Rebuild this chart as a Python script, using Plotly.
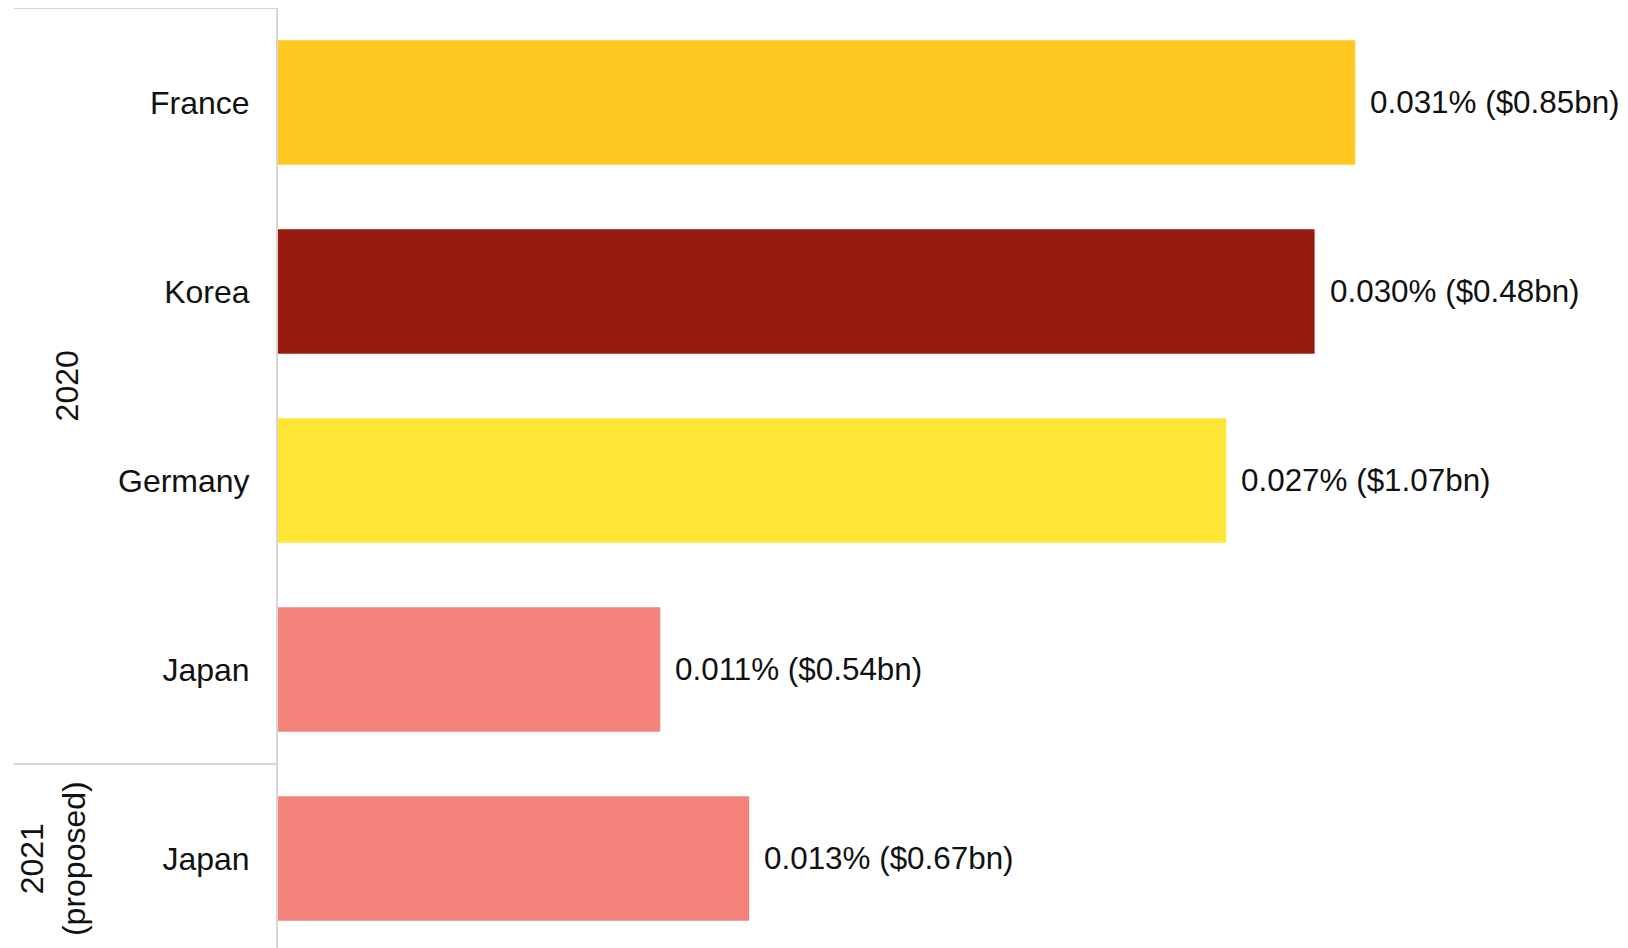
import plotly.graph_objects as go

# data
countries = ["France", "Korea", "Germany", "Japan", "Japan"]
years = ["2020", "2020", "2020", "2020", "2021<br>(proposed)"]
share_pct = [0.0310, 0.02983, 0.02729, 0.0110, 0.01356]
share_label = ["0.031%", "0.030%", "0.027%", "0.011%", "0.013%"]
usd_bn = ["$0.85bn", "$0.48bn", "$1.07bn", "$0.54bn", "$0.67bn"]
colors = ["#FFC820", "#961A0D", "#FFE636", "#F3837A", "#F3837A"]

FONT = "Liberation Sans, Arial, sans-serif"
FS = 32
ypos = list(range(len(countries)))

fig = go.Figure()
fig.add_trace(go.Bar(
    x=share_pct,
    y=ypos,
    orientation="h",
    marker=dict(color=colors, line=dict(width=0)),
    width=0.66,
    hoverinfo="skip",
    showlegend=False,
))

# value labels next to bars
for i, v in enumerate(share_pct):
    fig.add_annotation(
        x=v, y=ypos[i], xref="x", yref="y",
        text=f"{share_label[i]} ({usd_bn[i]})",
        showarrow=False, xanchor="left", yanchor="middle", xshift=13,
        font=dict(family=FONT, size=31.4, color="#111111"),
    )

# group labels (years)
groups = []
for i, yr in enumerate(years):
    if groups and groups[-1][0] == yr:
        groups[-1][2] = i
    else:
        groups.append([yr, i, i])

line_col = "#d6d6d6"
x_left = -(270 - 6) / 1350
for gi, (yr, a, b) in enumerate(groups):
    fig.add_annotation(
        x=-0.156 if "<br>" not in yr else -0.167, y=(a + b) / 2, xref="paper", yref="y",
        text=yr, textangle=-90, showarrow=False,
        xanchor="center", yanchor="middle",
        font=dict(family=FONT, size=FS, color="#111111"),
    )
    # separator line above each group
    fig.add_shape(
        type="line", xref="paper", yref="y",
        x0=x_left, x1=0, y0=a - 0.5, y1=a - 0.5,
        line=dict(color=line_col, width=2),
    )

fig.update_layout(
    width=1620, height=940,
    margin=dict(l=270, r=0, t=0, b=0),
    paper_bgcolor="white", plot_bgcolor="white",
    font=dict(family=FONT, size=FS, color="#111111"),
    bargap=0.34,
)
fig.update_xaxes(
    range=[0, 1350 / 34750], showgrid=False, zeroline=False,
    showticklabels=False, showline=False,
)
fig.update_yaxes(
    tickmode="array", tickvals=ypos, ticktext=countries,
    range=[-0.5 + 940 / 189, -0.5], showgrid=False, zeroline=False,
    showline=True, linecolor=line_col, linewidth=2,
    ticks="outside", ticklen=20, tickcolor="rgba(0,0,0,0)",
    tickfont=dict(family=FONT, size=FS, color="#111111"),
)

fig.write_html("out.html")
